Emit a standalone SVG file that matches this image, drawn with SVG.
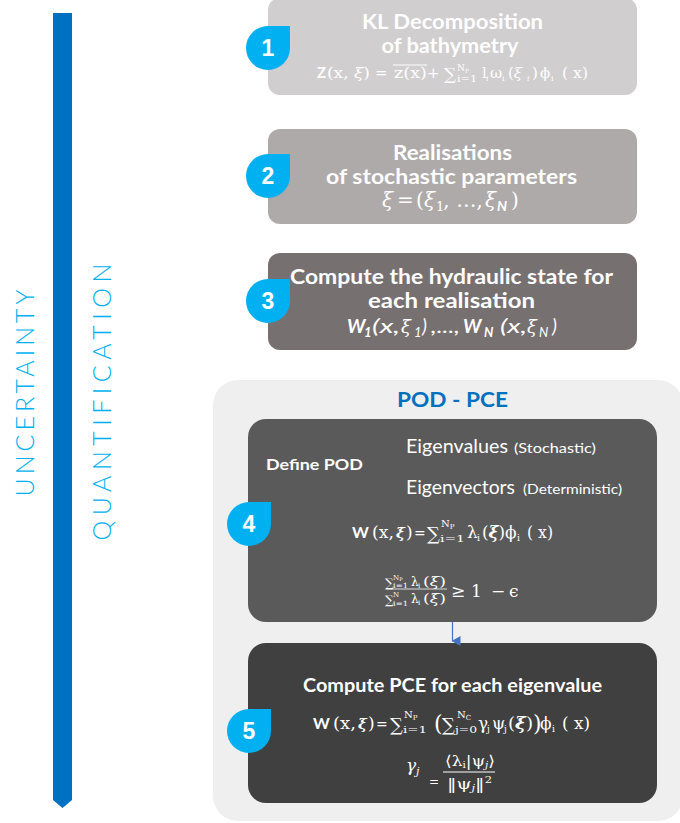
<svg xmlns="http://www.w3.org/2000/svg" width="680" height="823" viewBox="0 0 680 823">
<style>
.t{font-family:"Lato","Liberation Sans",sans-serif;font-weight:700;fill:#fff;text-anchor:middle}
.n{font-family:"Lato","Liberation Sans",sans-serif;font-weight:400;fill:#fff}
.m{font-family:"DejaVu Serif","Liberation Serif",serif;fill:#fff}
.i{font-style:italic}
.bw{font-family:"Lato","Liberation Sans",sans-serif;font-weight:700;fill:#fff}
.side{font-family:"Lato","Liberation Sans",sans-serif;font-weight:300;fill:#00b0f0;font-size:25px;text-anchor:middle}
.badge{fill:#00b0f0}
.num{font-family:"Liberation Sans",Arial,sans-serif;font-weight:700;fill:#fff;font-size:23px;text-anchor:middle}
</style>
<defs>
<marker id="ah" markerWidth="10" markerHeight="10" refX="5" refY="8" orient="auto" markerUnits="userSpaceOnUse">
<path d="M0,0 L10,0 L5,9 Z" fill="#4472c4"/>
</marker>
</defs>

<!-- side bar -->
<g id="sidebar">
<path d="M53,13 H72 V800 L62.5,808 L53,800 Z" fill="#0070c0"/>
<text class="side" transform="translate(34,393) rotate(-90)" textLength="207" lengthAdjust="spacing">UNCERTAINTY</text>
<text class="side" transform="translate(111,402) rotate(-90)" textLength="277" lengthAdjust="spacing">QUANTIFICATION</text>
</g>

<!-- container -->
<g id="pod-pce">
<rect x="213" y="380" width="470" height="441" rx="25" fill="#efefef"/>
<text x="452.5" y="407" font-family="Lato, 'Liberation Sans', sans-serif" font-weight="700" font-size="20" fill="#0070c0" text-anchor="middle" textLength="111" lengthAdjust="spacingAndGlyphs">POD - PCE</text>
</g>

<!-- step 1 -->
<g id="step1">
<rect x="268" y="-2" width="369" height="97" rx="12" fill="#d0cecf"/>
<text class="t" x="452.5" y="29" font-size="20" textLength="181" lengthAdjust="spacingAndGlyphs">KL Decomposition</text>
<text class="t" x="450" y="53" font-size="20" textLength="137" lengthAdjust="spacingAndGlyphs">of bathymetry</text>
<g font-size="15">
<text class="bw" x="317" y="78" font-size="15">Z</text>
<text class="m" x="327" y="78" textLength="43" lengthAdjust="spacingAndGlyphs">(x, <tspan class="i">ξ</tspan>)</text>
<text class="m" x="375" y="78">=</text>
<text class="m" x="394" y="78" textLength="33" lengthAdjust="spacingAndGlyphs">z(x)</text>
<line x1="393" y1="65" x2="427" y2="65" stroke="#fff" stroke-width="1"/>
<text class="m" x="427" y="78">+</text>
<text class="m" x="444" y="80" font-size="17">∑</text>
<text class="m" x="457" y="71" font-size="9">N<tspan font-size="6" dy="2">P</tspan></text>
<text class="m" x="457" y="82" font-size="9" textLength="20" lengthAdjust="spacingAndGlyphs">i=1</text>
<text class="m" x="482" y="78">l</text>
<text class="m i" x="486" y="81" font-size="8">i</text>
<text class="m" x="490" y="78">ω</text>
<text class="m" x="502" y="81" font-size="8">i</text>
<text class="m" x="508" y="78">(<tspan class="i">ξ</tspan></text>
<text class="m i" x="527" y="81" font-size="8">i</text>
<text class="m" x="532" y="78">)</text>
<text class="m" x="540" y="78">ϕ</text>
<text class="m" x="551" y="81" font-size="8">i</text>
<text class="m" x="562" y="78" textLength="26" lengthAdjust="spacingAndGlyphs">( x)</text>
</g>
<path class="badge" d="M268,26 H290 V48 A22,22 0 0 1 268,70 A22,22 0 0 1 246,48 A22,22 0 0 1 268,26 Z"/>
<text class="num" x="268" y="56">1</text>
</g>

<!-- step 2 -->
<g id="step2">
<rect x="268" y="129" width="369" height="95" rx="12" fill="#aeaaa9"/>
<text class="t" x="452.5" y="160" font-size="20" textLength="119" lengthAdjust="spacingAndGlyphs">Realisations</text>
<text class="t" x="451.5" y="184" font-size="20" textLength="251" lengthAdjust="spacingAndGlyphs">of stochastic parameters</text>
<g font-size="20">
<text class="m i" x="382" y="207">ξ</text>
<text class="m" x="397" y="207">=</text>
<text class="m" x="416" y="207">(</text>
<text class="m i" x="424" y="207">ξ</text>
<text class="m" x="436" y="211" font-size="13">1</text>
<text class="m" x="443" y="207" textLength="40" lengthAdjust="spacingAndGlyphs">, ..., </text>
<text class="m i" x="485" y="207">ξ</text>
<text class="bw i" x="497" y="211" font-size="14">N</text>
<text class="m" x="511" y="207">)</text>
</g>
<path class="badge" d="M268,154 H290 V176 A22,22 0 0 1 268,198 A22,22 0 0 1 246,176 A22,22 0 0 1 268,154 Z"/>
<text class="num" x="268" y="184">2</text>
</g>

<!-- step 3 -->
<g id="step3">
<rect x="268" y="253" width="369" height="97" rx="12" fill="#767170"/>
<text class="t" x="451.5" y="284" font-size="20" textLength="323" lengthAdjust="spacingAndGlyphs">Compute the hydraulic state for</text>
<text class="t" x="451.5" y="308" font-size="20" textLength="167" lengthAdjust="spacingAndGlyphs">each realisation</text>
<g font-size="19">
<text class="bw i" x="347" y="333">W</text>
<text class="bw i" x="364" y="337" font-size="13">1</text>
<text class="n i" x="372" y="333" textLength="28" lengthAdjust="spacingAndGlyphs">(x, </text>
<text class="m i" x="401" y="333" font-size="18">ξ</text>
<text class="n i" x="414" y="337" font-size="13">1</text>
<text class="n i" x="422" y="333">)</text>
<text class="n i" x="431" y="333" textLength="29" lengthAdjust="spacingAndGlyphs">,...,</text>
<text class="bw i" x="463" y="333">W</text>
<text class="bw i" x="484" y="337" font-size="13">N</text>
<text class="n i" x="500" y="333" textLength="27" lengthAdjust="spacingAndGlyphs">(x, </text>
<text class="m i" x="527" y="333" font-size="18">ξ</text>
<text class="n i" x="539" y="337" font-size="13">N</text>
<text class="n i" x="552" y="333">)</text>
</g>
<path class="badge" d="M268,279 H290 V301 A22,22 0 0 1 268,323 A22,22 0 0 1 246,301 A22,22 0 0 1 268,279 Z"/>
<text class="num" x="268" y="309">3</text>
</g>

<!-- step 4 -->
<g id="step4">
<rect x="248" y="419" width="409" height="203" rx="18" fill="#5a5a5a"/>
<text class="bw" x="266" y="470" font-size="16" textLength="97" lengthAdjust="spacingAndGlyphs">Define POD</text>
<text class="n" x="406" y="453" font-size="19" textLength="102" lengthAdjust="spacingAndGlyphs">Eigenvalues</text>
<text class="n" x="514" y="453" font-size="14" textLength="82" lengthAdjust="spacingAndGlyphs">(Stochastic)</text>
<text class="n" x="406" y="494" font-size="19" textLength="109" lengthAdjust="spacingAndGlyphs">Eigenvectors</text>
<text class="n" x="523" y="494" font-size="14" textLength="99" lengthAdjust="spacingAndGlyphs">(Deterministic)</text>
<g font-size="17">
<text class="bw" x="352" y="538" font-size="16">W</text>
<text class="m" x="372" y="538" textLength="22" lengthAdjust="spacingAndGlyphs">(x,</text>
<text class="m i" x="396" y="538" font-size="15" font-weight="700">ξ</text>
<text class="m" x="406" y="538">)</text>
<text class="m" x="414" y="538" font-size="14">=</text>
<text class="m" x="427" y="540" font-size="18">∑</text>
<text class="m" x="441" y="527" font-size="10">N<tspan font-size="7" dy="2">P</tspan></text>
<text class="m" x="440" y="542" font-size="10" textLength="25" lengthAdjust="spacingAndGlyphs">i=1</text>
<text class="m" x="467" y="538">λ</text>
<text class="m" x="477" y="541" font-size="9">i</text>
<text class="m" x="482" y="538" textLength="23" lengthAdjust="spacingAndGlyphs">(<tspan class="i" font-weight="700">ξ</tspan>)</text>
<text class="m" x="505" y="538">ϕ</text>
<text class="m" x="517" y="541" font-size="9">i</text>
<text class="m" x="527" y="538" textLength="26" lengthAdjust="spacingAndGlyphs">( x)</text>
</g>
<g font-size="12">
<text class="m" x="385" y="587" font-size="12">∑</text>
<text class="m" x="393" y="580" font-size="7">N<tspan font-size="5" dy="1">P</tspan></text>
<text class="m" x="393" y="588" font-size="7" textLength="15" lengthAdjust="spacingAndGlyphs">i=1</text>
<text class="m" x="411" y="586">λ</text>
<text class="m" x="418" y="588" font-size="7">i</text>
<text class="m" x="423" y="586" textLength="23" lengthAdjust="spacingAndGlyphs">(<tspan class="i">ξ</tspan>)</text>
<line x1="386" y1="589" x2="447" y2="589" stroke="#fff" stroke-width="0.8"/>
<text class="m" x="385" y="604" font-size="12">∑</text>
<text class="m" x="393" y="597" font-size="7">N</text>
<text class="m" x="393" y="606" font-size="7" textLength="15" lengthAdjust="spacingAndGlyphs">i=1</text>
<text class="m" x="411" y="603">λ</text>
<text class="m" x="418" y="605" font-size="7">i</text>
<text class="m" x="423" y="603" textLength="23" lengthAdjust="spacingAndGlyphs">(<tspan class="i">ξ</tspan>)</text>
</g>
<text class="m" x="451" y="597" font-size="17">≥</text>
<text class="m" x="471" y="597" font-size="17">1</text>
<text class="m" x="491" y="597" font-size="17">−</text>
<text class="m" x="509" y="597" font-size="17">ϵ</text>
<path class="badge" d="M249,502 H271 V524 A22,22 0 0 1 249,546 A22,22 0 0 1 227,524 A22,22 0 0 1 249,502 Z"/>
<text class="num" x="249" y="532">4</text>
</g>

<!-- step 5 -->
<g id="step5">
<rect x="248" y="643" width="409" height="160" rx="18" fill="#404040"/>
<text class="t" x="452.5" y="692" font-size="18" textLength="299" lengthAdjust="spacingAndGlyphs">Compute PCE for each eigenvalue</text>
<g font-size="17">
<text class="bw" x="313" y="729" font-size="16">W</text>
<text class="m" x="333" y="729" textLength="23" lengthAdjust="spacingAndGlyphs">(x,</text>
<text class="m i" x="358" y="729" font-size="15" font-weight="700">ξ</text>
<text class="m" x="368" y="729">)</text>
<text class="m" x="376" y="729" font-size="14">=</text>
<text class="m" x="390" y="731" font-size="18">∑</text>
<text class="m" x="404" y="718" font-size="10">N<tspan font-size="7" dy="2">P</tspan></text>
<text class="m" x="403" y="733" font-size="10" textLength="24" lengthAdjust="spacingAndGlyphs">i=1</text>
<text class="m" x="434" y="731" font-size="22">(</text>
<text class="m" x="442" y="731" font-size="18">∑</text>
<text class="m" x="457" y="718" font-size="10">N<tspan font-size="7" dy="2">C</tspan></text>
<text class="m" x="455" y="733" font-size="10" textLength="22" lengthAdjust="spacingAndGlyphs">j=0</text>
<text class="m" x="478" y="729">γ</text>
<text class="m" x="487" y="732" font-size="9">j</text>
<text class="m" x="492" y="729">ψ</text>
<text class="m" x="504" y="732" font-size="9">j</text>
<text class="m" x="508" y="729" textLength="25" lengthAdjust="spacingAndGlyphs">(<tspan class="i" font-weight="700">ξ</tspan>)</text>
<text class="m" x="533" y="731" font-size="22">)</text>
<text class="m" x="540" y="729">ϕ</text>
<text class="m" x="552" y="732" font-size="9">i</text>
<text class="m" x="562" y="729" textLength="28" lengthAdjust="spacingAndGlyphs">( x)</text>
</g>
<text class="m i" x="406" y="771" font-size="17">γ</text>
<text class="m i" x="416" y="775" font-size="11">j</text>
<text class="m" x="429" y="786" font-size="12">=</text>
<text class="m" x="445" y="766" font-size="15" textLength="50" lengthAdjust="spacingAndGlyphs">⟨λ<tspan font-size="9" dy="2">i</tspan><tspan dy="-2">|ψ</tspan><tspan class="i" font-size="9" dy="2">j</tspan><tspan dy="-2">⟩</tspan></text>
<line x1="443" y1="772" x2="495" y2="772" stroke="#fff" stroke-width="1"/>
<text class="m" x="447" y="789" font-size="15" textLength="45" lengthAdjust="spacingAndGlyphs">‖ψ<tspan class="i" font-size="9" dy="2">j</tspan><tspan dy="-2">‖</tspan><tspan font-size="9" dy="-6">2</tspan></text>
<path class="badge" d="M249,709 H271 V731 A22,22 0 0 1 249,753 A22,22 0 0 1 227,731 A22,22 0 0 1 249,709 Z"/>
<text class="num" x="249" y="739">5</text>
</g>

<!-- connectors -->
<g id="connectors">
<line x1="452.5" y1="622" x2="452.5" y2="641" stroke="#4472c4" stroke-width="1.2" marker-end="url(#ah)"/>
</g>
</svg>
